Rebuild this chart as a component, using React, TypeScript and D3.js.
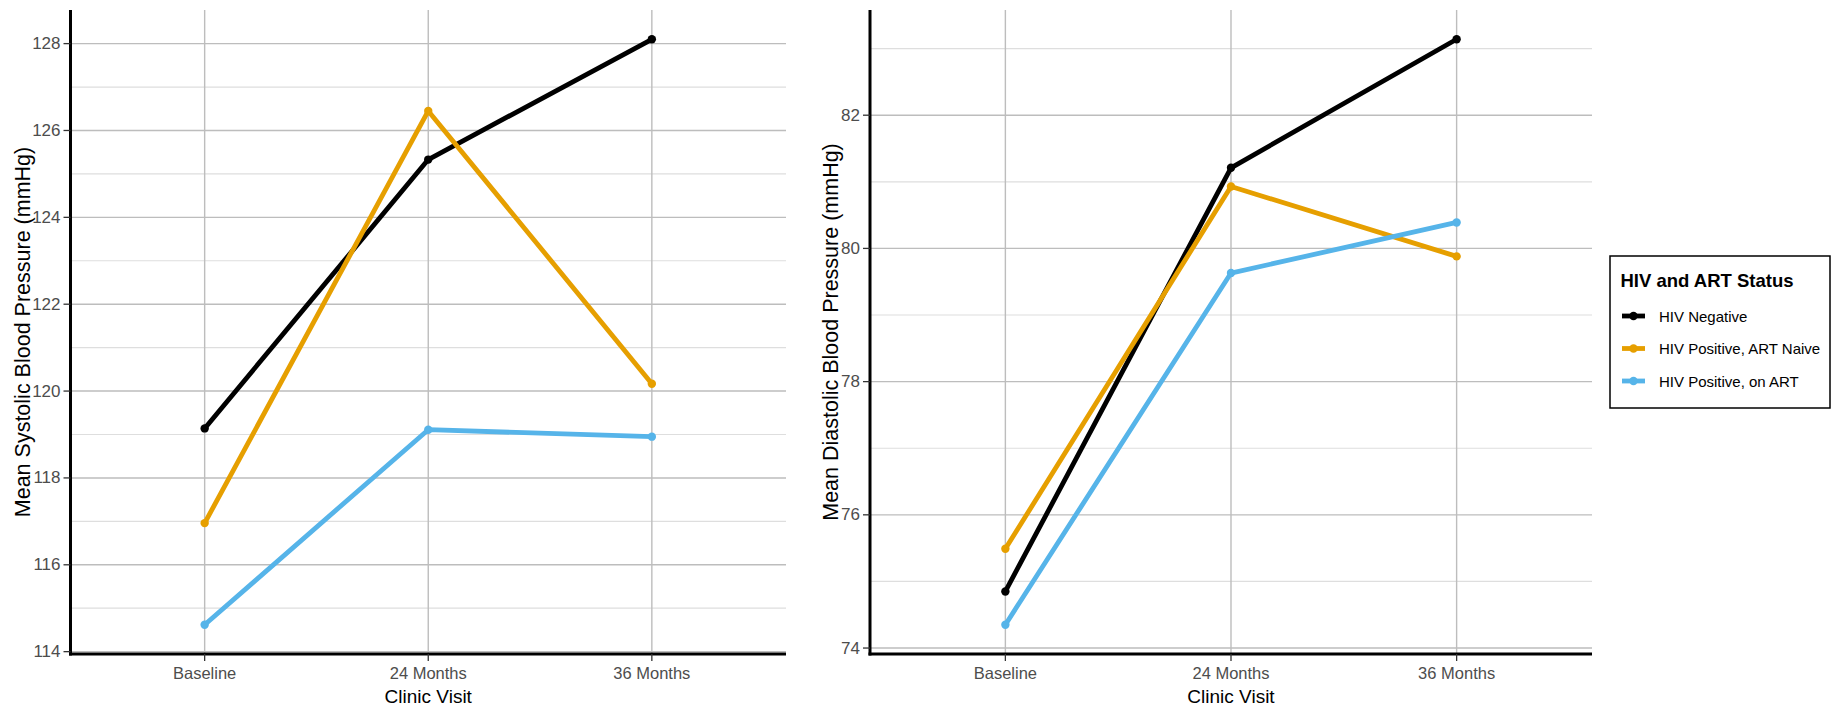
import React, { useEffect } from 'react';
import * as d3 from 'd3';

const visits = ['Baseline', '24 Months', '36 Months'];
const groups = ['HIV Negative', 'HIV Positive, ART Naive', 'HIV Positive, on ART'];
const groupColors = ['#000000', '#E69F00', '#56B4E9'];

const systolicNegative = [119.14, 125.33, 128.1];
const systolicNaive = [116.96, 126.45, 120.17];
const systolicOnArt = [114.62, 119.11, 118.95];

const diastolicNegative = [74.85, 81.21, 83.14];
const diastolicNaive = [75.49, 80.93, 79.88];
const diastolicOnArt = [74.35, 79.63, 80.39];

const systolicTicks = [114, 116, 118, 120, 122, 124, 126, 128];
const systolicMinor = [115, 117, 119, 121, 123, 125, 127];
const diastolicTicks = [74, 76, 78, 80, 82];
const diastolicMinor = [75, 77, 79, 81, 83];

const FONT = '"Liberation Sans", Arial, sans-serif';

type PanelProps = {
  x0: number; x1: number; y0: number; y1: number;
  series: number[][];
  ticks: number[]; minor: number[];
  yTitle: string; yTitleX: number;
};

function Panel({ x0, x1, y0, y1, series, ticks, minor, yTitle, yTitleX }: PanelProps) {
  const all = series.flat();
  const mn = d3.min(all)!, mx = d3.max(all)!;
  const pad = (mx - mn) * 0.05;
  const y = d3.scaleLinear().domain([mn - pad, mx + pad]).range([y1, y0]);
  const x = d3.scalePoint<string>().domain(visits).range([x0, x1]).padding(0.6);
  const line = d3.line<number>().x((_, i) => x(visits[i])!).y(d => y(d));
  return (
    <g>
      {minor.filter(v => y(v) >= y0 && y(v) <= y1).map(v => (
        <line key={'m' + v} x1={x0} x2={x1} y1={y(v)} y2={y(v)} stroke="#dedede" strokeWidth={1.2} />
      ))}
      {ticks.map(v => (
        <line key={'t' + v} x1={x0} x2={x1} y1={y(v)} y2={y(v)} stroke="#bdbdbd" strokeWidth={1.4} />
      ))}
      {visits.map(v => (
        <line key={'v' + v} x1={x(v)} x2={x(v)} y1={y0} y2={y1} stroke="#bdbdbd" strokeWidth={1.4} />
      ))}
      {series.map((s, gi) => (
        <g key={'s' + gi}>
          <path d={line(s)!} fill="none" stroke={groupColors[gi]} strokeWidth={4.8} strokeLinejoin="round" />
          {s.map((v, i) => (
            <circle key={i} cx={x(visits[i])} cy={y(v)} r={4.2} fill={groupColors[gi]} />
          ))}
        </g>
      ))}
      <line x1={x0} x2={x0} y1={y0} y2={y1 + 1.5} stroke="#000" strokeWidth={3} />
      <line x1={x0 - 1.5} x2={x1} y1={y1} y2={y1} stroke="#000" strokeWidth={3} />
      {ticks.map(v => (
        <g key={'yl' + v}>
          <line x1={x0 - 7} x2={x0} y1={y(v)} y2={y(v)} stroke="#333" strokeWidth={1.3} />
          <text x={x0 - 10} y={y(v)} textAnchor="end" dominantBaseline="central" fontSize={17} fill="#4d4d4d" fontFamily={FONT}>{v}</text>
        </g>
      ))}
      {visits.map(v => (
        <g key={'xl' + v}>
          <line x1={x(v)} x2={x(v)} y1={y1} y2={y1 + 7} stroke="#333" strokeWidth={1.3} />
          <text x={x(v)} y={679} textAnchor="middle" fontSize={16.5} fill="#4d4d4d" fontFamily={FONT}>{v}</text>
        </g>
      ))}
      <text x={(x0 + x1) / 2} y={703} textAnchor="middle" fontSize={19} fill="#000" fontFamily={FONT}>Clinic Visit</text>
      <text transform={`translate(${yTitleX},${(y0 + y1) / 2}) rotate(-90)`} textAnchor="middle" fontSize={21.5} fill="#000" fontFamily={FONT}>{yTitle}</text>
    </g>
  );
}

export default function App() {
  useEffect(() => {
    document.body.style.margin = '0';
  }, []);
  const legendY = [316, 348.5, 381];
  return (
    <svg width={1831} height={709} style={{ position: 'absolute', left: 0, top: 0, display: 'block', background: '#fff' }}>
      <rect x={0} y={0} width={1831} height={709} fill="#fff" />
      <Panel x0={70.5} x1={786} y0={10} y1={654}
        series={[systolicNegative, systolicNaive, systolicOnArt]}
        ticks={systolicTicks} minor={systolicMinor}
        yTitle="Mean Systolic Blood Pressure (mmHg)" yTitleX={30} />
      <Panel x0={870} x1={1592} y0={10} y1={654}
        series={[diastolicNegative, diastolicNaive, diastolicOnArt]}
        ticks={diastolicTicks} minor={diastolicMinor}
        yTitle="Mean Diastolic Blood Pressure (mmHg)" yTitleX={838} />
      <rect x={1610} y={256} width={220} height={152} fill="#fff" stroke="#000" strokeWidth={1.5} />
      <text x={1620.5} y={287} fontSize={18.5} fontWeight="bold" fill="#000" fontFamily={FONT}>HIV and ART Status</text>
      {groups.map((g, i) => (
        <g key={g}>
          <line x1={1622} x2={1645} y1={legendY[i]} y2={legendY[i]} stroke={groupColors[i]} strokeWidth={4.8} />
          <circle cx={1633.5} cy={legendY[i]} r={4.2} fill={groupColors[i]} />
          <text x={1659} y={legendY[i]} dominantBaseline="central" fontSize={15} fill="#000" fontFamily={FONT}>{g}</text>
        </g>
      ))}
    </svg>
  );
}
